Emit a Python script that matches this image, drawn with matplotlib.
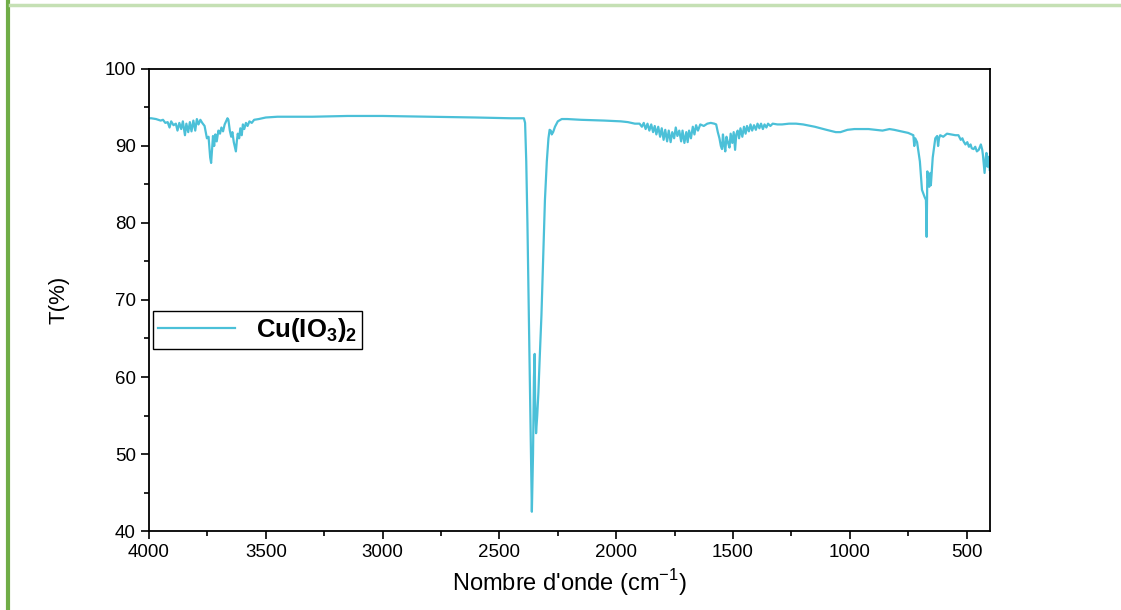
import numpy as np
import matplotlib
matplotlib.use("Agg")
import matplotlib.pyplot as plt
from matplotlib.lines import Line2D
from matplotlib.ticker import MultipleLocator

plt.rcParams['font.family'] = ['Liberation Sans', 'DejaVu Sans']
plt.rcParams['mathtext.fontset'] = 'custom'
plt.rcParams['mathtext.rm'] = 'Liberation Sans'
plt.rcParams['mathtext.bf'] = 'Liberation Sans:bold'

# FTIR spectrum of Cu(IO3)2
wavenumber = [
    4000, 3990, 3970, 3950, 3940, 3930, 3920, 3912, 3905, 3895, 3885, 3878, 3870, 3862, 3855,
    3846, 3840, 3832, 3825, 3818, 3810, 3802, 3795, 3788, 3780, 3772, 3762, 3752, 3745, 3738,
    3734, 3730, 3726, 3721, 3716, 3710, 3703, 3696, 3690, 3683, 3676, 3670, 3664, 3660, 3654,
    3648, 3643, 3637, 3632, 3628, 3624, 3620, 3614, 3609, 3603, 3598, 3592, 3585, 3578, 3570,
    3560, 3550, 3530, 3500, 3450, 3300, 3150, 3000, 2800, 2600, 2450, 2395,
    2390, 2385, 2380, 2375, 2370, 2365, 2361, 2356, 2352, 2349, 2347, 2343, 2338, 2333, 2328,
    2320, 2312, 2305, 2297, 2290, 2285, 2280, 2276, 2270, 2262, 2250, 2233, 2210, 2150, 2050,
    1980, 1950, 1920,
    1900, 1890, 1882, 1874, 1866, 1858, 1850, 1842, 1835, 1828, 1820, 1812, 1805, 1797, 1790,
    1782, 1775, 1767, 1760, 1752, 1745, 1738, 1730, 1722, 1716, 1708, 1700, 1694, 1688, 1680,
    1672, 1665, 1658, 1650, 1640, 1625, 1610, 1595, 1580, 1572, 1565, 1558, 1552, 1547, 1543,
    1538, 1533, 1528, 1522, 1515, 1510, 1503, 1497, 1491, 1486, 1480, 1474, 1468, 1460, 1453,
    1446, 1440, 1432, 1425, 1418, 1410, 1402, 1395, 1387, 1380, 1372, 1365, 1357, 1350, 1340,
    1330, 1310, 1290, 1260, 1230, 1200, 1150, 1100, 1060, 1040, 1010, 980, 920, 860, 830,
    810, 780, 750, 728, 724, 720, 712, 700, 691, 680, 674, 671, 668, 664, 660,
    655, 653, 645, 634, 626, 622, 618, 613, 600, 584, 565, 548, 535, 525, 518,
    513, 505, 497, 490, 483, 478, 470, 463, 456, 448, 439, 433, 430, 423, 418,
    415, 410, 405, 401,
]
transmittance = [
    93.6, 93.6, 93.5, 93.3, 93.4, 93.0, 93.1, 92.4, 93.2, 92.7, 92.9, 92.0, 93.0, 92.2, 93.2,
    91.4, 92.9, 91.8, 93.1, 91.9, 93.3, 92.0, 93.5, 92.8, 93.4, 93.0, 92.6, 91.0, 91.2, 88.5,
    87.8, 89.5, 91.3, 90.0, 91.5, 90.6, 92.0, 91.6, 92.4, 91.9, 92.8, 93.2, 93.6, 93.4, 92.0,
    91.2, 91.8, 90.5, 89.8, 89.3, 90.6, 91.6, 91.0, 92.3, 91.4, 92.8, 92.2, 93.0, 92.6, 93.2,
    93.0, 93.4, 93.5, 93.7, 93.8, 93.8, 93.9, 93.9, 93.8, 93.7, 93.6, 93.6,
    93.0, 88.0, 80.0, 70.0, 60.0, 50.0, 42.5, 50.0, 60.0, 63.0, 57.0, 52.7, 55.0, 58.0, 62.0,
    68.0, 76.0, 83.0, 88.0, 91.0, 92.1, 92.0, 91.5, 91.8, 92.5, 93.2, 93.5, 93.5, 93.4, 93.3,
    93.2, 93.1, 92.9,
    92.9, 92.5, 93.0, 92.2, 92.9, 92.0, 92.8, 91.8, 92.6, 91.5, 92.5, 91.2, 92.3, 90.8, 92.1,
    90.6, 92.0, 90.5, 91.8, 91.0, 92.4, 91.3, 92.0, 90.6, 92.0, 90.4, 91.8, 90.5, 92.0, 91.0,
    92.5, 91.5, 92.7, 92.0, 92.8, 92.6, 92.9, 93.0, 92.9, 92.8, 91.8, 91.0, 90.0, 89.6, 91.5,
    90.2, 89.3, 91.2, 90.5, 89.8, 91.6, 90.4, 91.8, 89.5, 91.5, 92.0, 91.0, 92.3, 91.2, 92.5,
    91.6, 92.6, 91.9, 92.8, 92.0, 92.7, 92.1, 92.9, 92.3, 92.9, 92.2, 92.8, 92.4, 92.9, 92.6,
    92.9, 92.8, 92.8, 92.9, 92.9, 92.8, 92.5, 92.1, 91.8, 91.8, 92.1, 92.2, 92.2, 92.0, 92.2,
    92.1, 91.9, 91.7, 91.4, 90.0, 91.0, 90.5, 88.0, 84.3, 83.4, 83.0, 78.2, 86.7, 85.5, 84.7,
    86.5, 84.9, 88.5, 91.0, 91.3, 90.0, 91.0, 91.4, 91.2, 91.6, 91.5, 91.4, 91.4, 90.8, 91.0,
    90.6, 90.2, 90.5, 89.9, 90.2, 89.7, 89.6, 89.9, 89.3, 89.5, 90.2, 89.5, 88.8, 86.5, 88.5,
    89.1, 87.3, 88.6, 86.9,
]
series_label = r'$\mathbf{Cu(IO_3)_2}$'

fig = plt.figure(figsize=(11.21, 6.10), dpi=100)

# slide decoration: green bar on the left, pale green rule on top
fig.add_artist(Line2D([0.0072, 0.0072], [0, 1], transform=fig.transFigure,
                      color='#70AD47', lw=3))
fig.add_artist(Line2D([0.009, 1], [0.992, 0.992], transform=fig.transFigure,
                      color='#C5E0B4', lw=2.5))

ax = fig.add_axes([0.1329, 0.1295, 0.7502, 0.7574])
ax.plot(wavenumber, transmittance, color='#4BC0D8', lw=1.6, label=series_label)

ax.set_xlim(4000, 400)
ax.set_ylim(40, 100)
ax.xaxis.set_major_locator(MultipleLocator(500))
ax.xaxis.set_minor_locator(MultipleLocator(250))
ax.yaxis.set_major_locator(MultipleLocator(10))
ax.yaxis.set_minor_locator(MultipleLocator(5))
ax.tick_params(which='major', direction='out', length=6, width=1.2, labelsize=13.5)
ax.tick_params(which='minor', direction='out', length=3.5, width=1.2)
for sp in ax.spines.values():
    sp.set_linewidth(1.3)

ax.set_xlabel(r"Nombre d'onde (cm$^{-1}$)", fontsize=17, labelpad=4)
ax.set_ylabel('T(%)', fontsize=16, labelpad=25)

leg = ax.legend(loc='upper left', bbox_to_anchor=(0.005, 0.476), fontsize=18.5,
                fancybox=False, edgecolor='black', framealpha=1,
                handlelength=3.0, borderpad=0.2, borderaxespad=0)
leg.get_frame().set_linewidth(1.0)

fig.savefig('out.png', dpi=100)
